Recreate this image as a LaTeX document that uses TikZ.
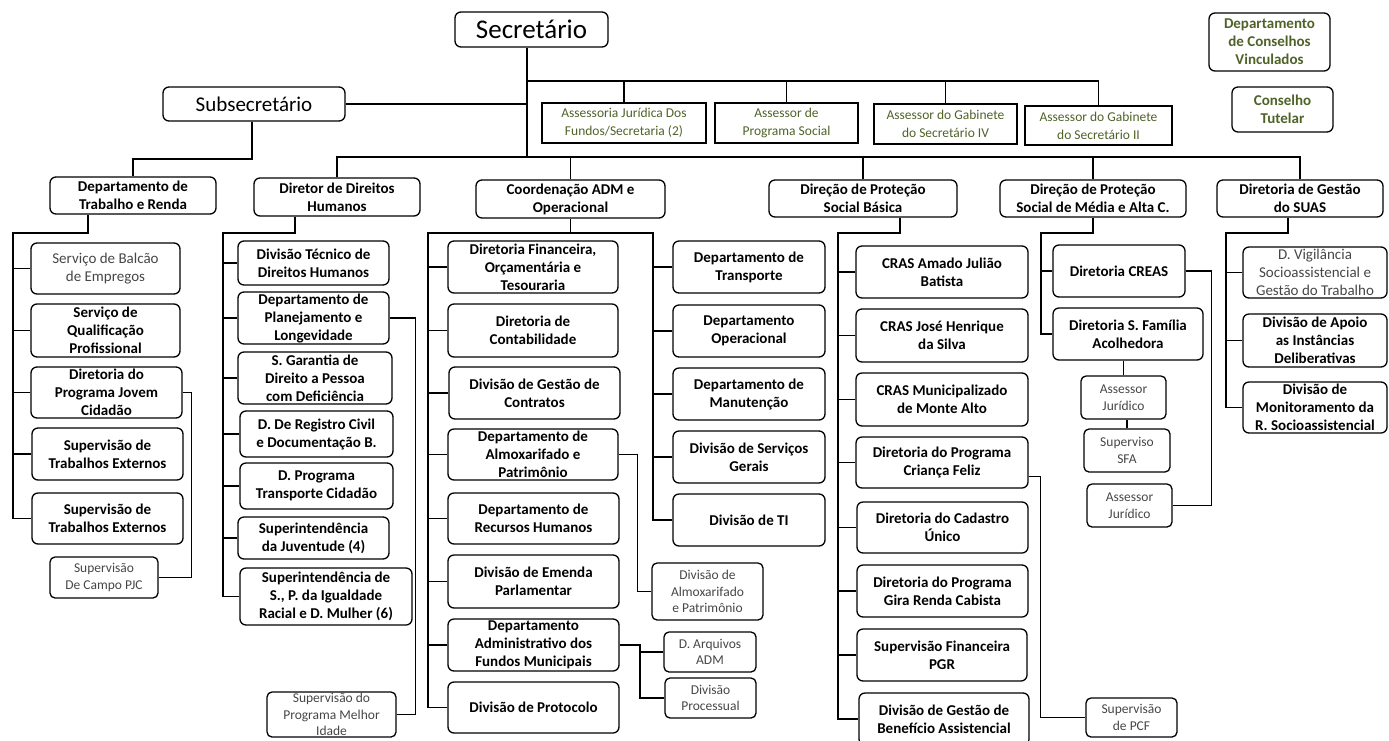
\documentclass[tikz,border=0pt]{standalone}
\usepackage{fontspec}
\setmainfont{Carlito}
\usetikzlibrary{calc}
\definecolor{olv}{RGB}{79,98,40}
\definecolor{gtx}{RGB}{70,70,70}
\tikzset{
 bx/.style={draw, line width=1.3pt, rounded corners=6pt, align=center, inner sep=0pt, font=\bfseries\fontsize{15}{18}\selectfont, text=black},
 lbx/.style={bx, font=\fontsize{15}{18}\selectfont, text=gtx},
 sbx/.style={bx, rounded corners=5pt, font=\fontsize{13.5}{16.5}\selectfont, text=gtx},
 abx/.style={draw, line width=1.2pt, align=center, inner sep=0pt, font=\fontsize{13.5}{18}\selectfont, text=olv},
 gbx/.style={bx, text=olv},
 tbx/.style={bx, font=\fontsize{#1}{#1}\selectfont},
 ln/.style={line width=1.3pt},
}
\newcommand{\bx}[7]{\node[#1, minimum width={(#4-#2)*1pt}, minimum height={(#5-#3)*1pt}] (#6) at ({(#2+#4)/2},{(#3+#5)/2}) {#7};}
\begin{document}
\begin{tikzpicture}[x=1pt,y=-1pt]
\useasboundingbox (0,0) rectangle (1389,740);
% top
\bx{tbx=27}{455}{12}{608}{47}{sec}{Secretário}
\bx{tbx=21}{163}{87}{345}{121}{sub}{Subsecretário}
\bx{gbx}{1209}{13}{1330}{71}{dcv}{Departamento\\de Conselhos\\Vinculados}
\bx{gbx}{1232}{87}{1333}{132}{ct}{Conselho\\Tutelar}
\bx{abx}{542}{103}{706}{143}{aj}{Assessoria Jurídica Dos\\Fundos/Secretaria (2)}
\bx{abx}{715}{103}{858}{143}{ap}{Assessor de\\Programa Social}
\bx{abx}{874}{104}{1017}{144}{ag4}{Assessor do Gabinete\\do Secretário IV}
\bx{abx}{1025}{106}{1172}{145}{ag2}{Assessor do Gabinete\\do Secretário II}
% level 2
\bx{bx}{50}{177}{216}{214}{dtr}{Departamento de\\Trabalho e Renda}
\bx{bx}{254}{178}{420}{216}{ddh}{Diretor de Direitos\\Humanos}
\bx{bx}{476}{180}{665}{218}{cao}{Coordenação ADM e\\Operacional}
\bx{bx}{769}{180}{957}{217}{psb}{Direção de Proteção\\Social Básica}
\bx{bx}{1000}{180}{1186}{217}{psm}{Direção de Proteção\\Social de Média e Alta C.}
\bx{bx}{1217}{180}{1383}{217}{suas}{Diretoria de Gestão\\do SUAS}
% column 1
\bx{lbx}{31}{243}{180}{294}{sbe}{Serviço de Balcão\\de Empregos}
\bx{bx}{31}{304}{180}{357}{sqp}{Serviço de\\Qualificação\\Profissional}
\bx{bx}{31}{367}{182}{418}{jc}{Diretoria do\\Programa Jovem\\Cidadão}
\bx{bx}{32}{428}{183}{480}{te1}{Supervisão de\\Trabalhos Externos}
\bx{bx}{32}{493}{183}{544}{te2}{Supervisão de\\Trabalhos Externos}
\bx{sbx}{50}{557}{158}{598}{pjc}{Supervisão\\De Campo PJC}
% column 2
\bx{bx}{238}{241}{389}{285}{dth}{Divisão Técnico de\\Direitos Humanos}
\bx{bx}{238}{292}{389}{344}{dpl}{Departamento de\\Planejamento e\\Longevidade}
\bx{bx}{238}{352}{392}{404}{sgd}{S. Garantia de\\Direito a Pessoa\\com Deficiência}
\bx{bx}{240}{411}{393}{457}{drc}{D. De Registro Civil\\e Documentação B.}
\bx{bx}{240}{463}{393}{509}{dpt}{D. Programa\\Transporte Cidadão}
\bx{bx}{238}{517}{389}{559}{sj}{Superintendência\\da Juventude (4)}
\bx{bx}{240}{568}{412}{625}{sir}{Superintendência de\\S., P. da Igualdade\\Racial e D. Mulher (6)}
\bx{sbx}{267}{692}{396}{737}{pmi}{Supervisão do\\Programa Melhor\\Idade}
% column 3
\bx{bx}{448}{241}{618}{293}{dfo}{Diretoria Financeira,\\Orçamentária e\\Tesouraria}
\bx{bx}{448}{304}{618}{357}{dco}{Diretoria de\\Contabilidade}
\bx{bx}{449}{367}{620}{419}{dgc}{Divisão de Gestão de\\Contratos}
\bx{bx}{448}{429}{618}{480}{dap}{Departamento de\\Almoxarifado e\\Patrimônio}
\bx{bx}{448}{493}{619}{544}{drh}{Departamento de\\Recursos Humanos}
\bx{bx}{448}{555}{619}{608}{dep}{Divisão de Emenda\\Parlamentar}
\bx{bx}{448}{619}{619}{671}{dad}{Departamento\\Administrativo dos\\Fundos Municipais}
\bx{bx}{448}{682}{619}{733}{dpr}{Divisão de Protocolo}
\bx{bx}{673}{241}{825}{293}{dtp}{Departamento de\\Transporte}
\bx{bx}{673}{305}{825}{357}{dop}{Departamento\\Operacional}
\bx{bx}{673}{368}{825}{420}{dma}{Departamento de\\Manutenção}
\bx{bx}{673}{431}{825}{483}{dsg}{Divisão de Serviços\\Gerais}
\bx{bx}{673}{494}{825}{546}{dti}{Divisão de TI}
\bx{sbx}{652}{563}{763}{620}{dam}{Divisão de\\Almoxarifado\\e Patrimônio}
\bx{sbx}{664}{632}{756}{672}{dar}{D. Arquivos\\ADM}
\bx{sbx}{665}{678}{756}{718}{dvp}{Divisão\\Processual}
% column 4
\bx{bx}{856}{246}{1028}{298}{cr1}{CRAS Amado Julião\\Batista}
\bx{bx}{856}{309}{1028}{362}{cr2}{CRAS José Henrique\\da Silva}
\bx{bx}{856}{373}{1028}{426}{cr3}{CRAS Municipalizado\\de Monte Alto}
\bx{bx}{856}{437}{1028}{488}{pcf}{Diretoria do Programa\\Criança Feliz}
\bx{bx}{857}{502}{1028}{553}{dcu}{Diretoria do Cadastro\\Único}
\bx{bx}{857}{565}{1028}{617}{grc}{Diretoria do Programa\\Gira Renda Cabista}
\bx{bx}{857}{629}{1027}{681}{sfp}{Supervisão Financeira\\PGR}
\bx{bx}{859}{693}{1029}{745}{dgb}{Divisão de Gestão de\\Benefício Assistencial}
\bx{sbx}{1086}{698}{1177}{737}{spcf}{Supervisão\\de PCF}
% column 5
\bx{bx}{1053}{245}{1185}{297}{creas}{Diretoria CREAS}
\bx{bx}{1053}{308}{1203}{360}{fam}{Diretoria S. Família\\Acolhedora}
\bx{sbx}{1081}{376}{1166}{419}{aj1}{Assessor\\Jurídico}
\bx{sbx}{1084}{429}{1170}{472}{sfa}{Superviso\\SFA}
\bx{sbx}{1087}{484}{1172}{527}{aj2}{Assessor\\Jurídico}
% column 6
\bx{lbx}{1243}{247}{1387}{298}{vig}{D. Vigilância\\Socioassistencial e\\Gestão do Trabalho}
\bx{bx}{1243}{314}{1387}{367}{apo}{Divisão de Apoio\\as Instâncias\\Deliberativas}
\bx{bx}{1243}{382}{1387}{433}{mon}{Divisão de\\Monitoramento da\\R. Socioassistencial}
% ---- connectors
\coordinate (spB) at (527,157);
\coordinate (aB) at (527,81);
\draw[ln] (sec.south -| spB) -- (spB);
\draw[ln] (aB) -- (aB -| ag2.north) -- (ag2.north);
\foreach \n in {aj,ap,ag4} \draw[ln] (\n.north) -- (\n.north |- aB);
\draw[ln] (sub.east) -- (sub.east -| spB);
\coordinate (subB) at (252,159);
\draw[ln] (sub.south -| subB) -- (subB) -| (dtr.north);
\draw[ln] (ddh.north) |- (suas.north |- spB) -- (suas.north);
\foreach \n in {cao,psb,psm} \draw[ln] (\n.north) -- (\n.north |- spB);
% col 1
\coordinate (k1) at (88,233); \coordinate (s1) at (13,0);
\draw[ln] (dtr.south -| k1) -- (k1) -- (k1 -| s1) |- (te2.west);
\foreach \n in {sbe,sqp,jc,te1} \draw[ln] (\n.west) -- (\n.west -| s1);
\draw[ln] (jc.east) -- ++(9,0) |- (pjc.east);
% col 2
\coordinate (k2) at (295,233); \coordinate (s2) at (223,0);
\draw[ln] (ddh.south -| k2) -- (k2) -- (k2 -| s2) |- (sir.west);
\foreach \n in {dth,dpl,sgd,drc,dpt,sj} \draw[ln] (\n.west) -- (\n.west -| s2);
\draw[ln] (dpl.east) -- ++(26,0) |- (pmi.east);
% col 3
\coordinate (k3) at (569,233); \coordinate (s3) at (428,0); \coordinate (s4) at (653,0);
\draw[ln] (cao.south) -- (cao.south |- k3);
\draw[ln] (dpr.west) -| (s3 |- k3) -- (s4 |- k3) |- (dti.west);
\foreach \n in {dfo,dco,dgc,dap,drh,dep,dad} \draw[ln] (\n.west) -- (\n.west -| s3);
\foreach \n in {dtp,dop,dma,dsg} \draw[ln] (\n.west) -- (\n.west -| s4);
\draw[ln] (dap.east) -- ++(19,0) |- (dam.west);
\coordinate (k5) at (640,0);
\draw[ln] (dad.east) -- (dad.east -| k5) |- (dvp.west);
\draw[ln] (dar.west) -- (dar.west -| k5);
% col 4
\coordinate (k4) at (900,233); \coordinate (s5) at (838,0);
\draw[ln] (psb.south -| k4) -- (k4) -- (k4 -| s5) |- (dgb.west);
\foreach \n in {cr1,cr2,cr3,pcf,dcu,grc,sfp} \draw[ln] (\n.west) -- (\n.west -| s5);
\draw[ln] ([yshift=-14pt]pcf.east) -- ++(12,0) |- (spcf.west);
% col 5
\coordinate (k6) at (1093,233); \coordinate (s6) at (1041,0);
\draw[ln] (psm.south) -- (psm.south |- k6) -- (k6 -| s6) |- (fam.west);
\draw[ln] (creas.west) -- (creas.west -| s6);
\draw[ln] (aj1.north) -- (aj1.north |- fam.south);
\draw[ln] (sfa.north) -- (sfa.north |- aj1.south);
\draw[ln] (creas.east) -- ++(26,0) |- (aj2.east);
% col 6
\coordinate (k7) at (1288,233); \coordinate (s7) at (1226,0);
\draw[ln] (suas.south -| k7) -- (k7) -- (k7 -| s7) |- (mon.west);
\foreach \n in {vig,apo} \draw[ln] (\n.west) -- (\n.west -| s7);
\end{tikzpicture}
\end{document}
